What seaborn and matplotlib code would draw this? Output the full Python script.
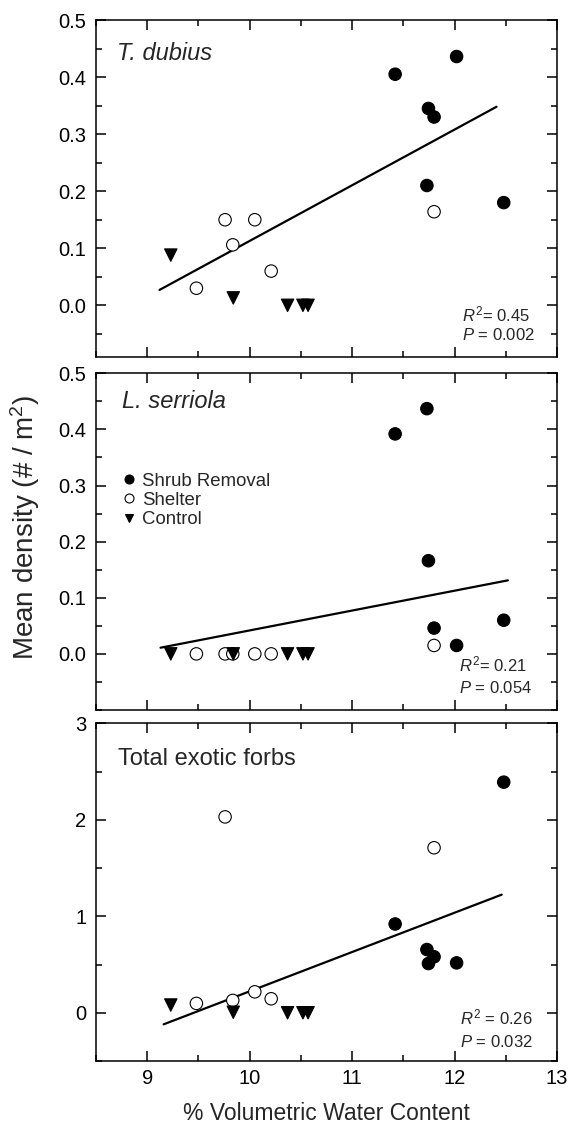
import numpy as np
import pandas as pd
import matplotlib
matplotlib.use('Agg')
import matplotlib.pyplot as plt
import seaborn as sns
from matplotlib.ticker import MultipleLocator, FixedLocator, FormatStrFormatter

# ---------------- data ----------------
treatments = ['Shrub Removal', 'Shelter', 'Control']
x_shrub = [11.42, 12.02, 11.745, 11.80, 11.73, 12.48]
x_shelter = [9.48, 9.76, 9.835, 10.05, 10.21, 11.80]
x_control = [9.23, 9.84, 10.37, 10.52, 10.57]

panel_titles = ['T. dubius', 'L. serriola', 'Total exotic forbs']
panel_italic = [True, True, False]

y_shrub = [[0.405, 0.436, 0.345, 0.330, 0.210, 0.180],
           [0.392, 0.015, 0.166, 0.046, 0.437, 0.060],
           [0.92, 0.517, 0.51, 0.58, 0.655, 2.39]]
y_shelter = [[0.030, 0.150, 0.106, 0.150, 0.060, 0.164],
             [0.0, 0.0, 0.0, 0.0, 0.0, 0.015],
             [0.097, 2.03, 0.128, 0.217, 0.145, 1.71]]
y_control = [[0.088, 0.013, 0.0, 0.0, 0.0],
             [0.0, 0.0, 0.0, 0.0, 0.0],
             [0.08, 0.005, 0.0, 0.0, 0.0]]

fit_x = [[9.12, 12.41], [9.13, 12.52], [9.16, 12.46]]
fit_y = [[0.027, 0.348], [0.011, 0.131], [-0.12, 1.224]]

r2_text = ['0.45', '0.21', '0.26']
r2_sep = ['= ', '= ', ' = ']
p_text = ['0.002', '0.054', '0.032']

ylims = [(-0.09, 0.5), (-0.1, 0.5), (-0.5, 3.0)]
y_major_ticks = [[0.0, 0.1, 0.2, 0.3, 0.4, 0.5],
                 [0.0, 0.1, 0.2, 0.3, 0.4, 0.5],
                 [0, 1, 2, 3]]
y_minor = [0.05, 0.05, 0.5]
y_fmt = ['%.1f', '%.1f', '%d']

xlabel = '% Volumetric Water Content'
ylabel = 'Mean density (# / m$^2$)'

# ---------------- style ----------------
sns.set_style('ticks')
plt.rcParams['font.family'] = ['Liberation Sans', 'DejaVu Sans']
plt.rcParams['mathtext.fontset'] = 'custom'
plt.rcParams['mathtext.rm'] = 'Liberation Sans'
plt.rcParams['mathtext.it'] = 'Liberation Sans:italic'
plt.rcParams['mathtext.bf'] = 'Liberation Sans:bold'

W, H = 568, 1124
fig = plt.figure(figsize=(W / 100, H / 100), dpi=100)

left_px, right_px = 96, 557
panels_px = [(20, 356.7), (373.3, 710), (723.3, 1061)]

palette = {'Shrub Removal': 'black', 'Shelter': 'white', 'Control': 'black'}
markers = {'Shrub Removal': 'o', 'Shelter': 'o', 'Control': 'v'}

title_pos = [(0.045, 0.881), (0.056, 0.896), (0.048, 0.877)]
r2_pos = [(0.794, 0.104, 0.050), (0.788, 0.114, 0.050), (0.790, 0.107, 0.042)]

axes = []
for i in range(3):
    top, bot = panels_px[i]
    ax = fig.add_axes([left_px / W, 1 - bot / H, (right_px - left_px) / W, (bot - top) / H])
    axes.append(ax)

    df = pd.DataFrame({
        'vwc': x_shrub + x_shelter + x_control,
        'density': y_shrub[i] + y_shelter[i] + y_control[i],
        'Treatment': (['Shrub Removal'] * len(x_shrub) + ['Shelter'] * len(x_shelter)
                      + ['Control'] * len(x_control)),
    })

    ax.plot(fit_x[i], fit_y[i], color='black', lw=1.6, zorder=2)
    sns.scatterplot(data=df, x='vwc', y='density', hue='Treatment', style='Treatment',
                    hue_order=treatments, style_order=treatments,
                    palette=palette, markers=markers, s=80, edgecolor='black',
                    linewidth=0.8, ax=ax, legend=(i == 1), zorder=3)

    ax.set_xlim(8.5, 13)
    ax.set_ylim(*ylims[i])
    ax.xaxis.set_major_locator(MultipleLocator(1))
    ax.xaxis.set_minor_locator(MultipleLocator(0.5))
    ax.yaxis.set_major_locator(FixedLocator(y_major_ticks[i]))
    ax.yaxis.set_minor_locator(MultipleLocator(y_minor[i]))
    ax.yaxis.set_major_formatter(FormatStrFormatter(y_fmt[i]))
    ax.tick_params(which='both', direction='in', top=True, right=True, width=1.1,
                   labelsize=14.5, colors='black')
    ax.tick_params(which='major', length=7.5)
    ax.tick_params(which='minor', length=4.3)
    ax.tick_params(axis='y', pad=7)
    ax.tick_params(axis='x', pad=6)
    for sp in ax.spines.values():
        sp.set_linewidth(1.1)
        sp.set_color('black')
        sp.set_visible(True)
    ax.set_xlabel('')
    ax.set_ylabel('')
    if i < 2:
        ax.tick_params(axis='x', labelbottom=False)

    tx, ty = title_pos[i]
    ax.text(tx, ty, panel_titles[i], transform=ax.transAxes, fontsize=17,
            style='italic' if panel_italic[i] else 'normal', ha='left', va='baseline')

    rx, ry1, ry2 = r2_pos[i]
    ax.text(rx, ry1, r'$\mathit{R}^2$' + r2_sep[i] + r2_text[i], transform=ax.transAxes,
            fontsize=12, ha='left', va='baseline')
    ax.text(rx, ry2, r'$\mathit{P}$ = ' + p_text[i], transform=ax.transAxes,
            fontsize=12, ha='left', va='baseline')

    if i == 1:
        handles, labels = ax.get_legend_handles_labels()
        ax.legend(handles, labels, loc='upper left', bbox_to_anchor=(0.055, 0.705),
                  frameon=False, fontsize=13.4, handlelength=0.8, handletextpad=0.3,
                  labelspacing=0.12, borderpad=0, borderaxespad=0, markerscale=0.72)

axes[2].set_xlabel(xlabel, fontsize=16.5, labelpad=10)
fig.text(25 / W, 1 - 527 / H, ylabel, rotation=90, ha='center', va='center', fontsize=20)

fig.savefig('out.png', dpi=100)
